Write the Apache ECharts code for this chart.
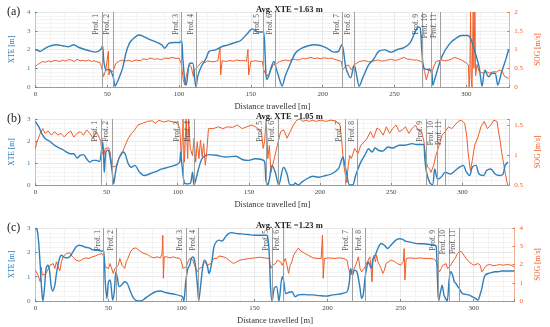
<!DOCTYPE html>
<html><head><meta charset="utf-8">
<script src="https://cdn.jsdelivr.net/npm/echarts@6/dist/echarts.min.js"></script>
<style>html,body{margin:0;padding:0;background:#fff}#c{width:550px;height:327px}</style>
</head><body><div id="c"></div>
<script>
// ---------- DATA ----------
var panelLetters = ['(a)', '(b)', '(c)'];
var avgXTE = ['1.63', '1.05', '1.23'];
var xMax = [330, 333, 328];
var xteMax = [4, 3, 3];
var sogMin = [0, 0.5, 0];
var sogMax = [2, 1.6, 4];
var xTickLabels = [0, 50, 100, 150, 200, 250, 300];
var profNames = ['Prof. 1','Prof. 2','Prof. 3','Prof. 4','Prof. 5','Prof. 6','Prof. 7','Prof. 8','Prof. 9','Prof. 10','Prof. 11'];
var profA = [46.7, 54.4, 101.8, 112.2, 158.4, 167.3, 214, 221.8, 269.3, 275.8, 281.6];
var profB = [46.2, 54, 104, 111.5, 162, 170.5, 217.8, 226.4, 274.3, 282, 288];
var profC = [46.7, 55.6, 103.3, 111.8, 162.2, 169.6, 217, 225.6, 276, 283.3, 290];

var xteA = [[0,2.0],[2.2,1.93],[3.3,1.9],[5.5,2.0],[9,2.15],[14.4,2.25],[19,2.2],[23,2.15],[26.7,2.25],[30,2.12],[34.4,2.0],[39,1.9],[42,1.86],[45.5,2.0],[46.7,2.2],[47.8,1.27],[49.5,0.9],[51,0.95],[52.7,0.82],[54.4,0.46],[55.5,0.05],[56.7,0.2],[59,0.64],[61,1.09],[63,1.8],[65.5,2.34],[67.8,2.55],[72,2.77],[74.4,2.73],[79,2.55],[83,2.43],[88,2.25],[90,2.07],[93,2.34],[96.7,2.37],[100.7,2.37],[101.8,2.5],[102.7,1.45],[104,0.37],[105,0.1],[106.7,1.09],[107.8,1.27],[109.5,1.27],[111,0.37],[111.8,0.0],[113,0.55],[115.5,1.09],[118.9,1.54],[121,1.9],[125.5,1.98],[130,2.16],[134.4,2.25],[139,2.37],[143,2.48],[147.8,2.87],[151,3.1],[154.4,2.96],[157.8,2.93],[158.9,2.93],[160,1.6],[161,0.4],[162.5,0.6],[164,1.0],[166,1.36],[168,0.9],[170,0.4],[171.8,0.05],[174,0.6],[176.7,1.09],[181,1.8],[185.5,2.07],[190,2.2],[194.4,2.25],[199,2.2],[203,2.07],[208,1.86],[211,1.9],[213.3,2.25],[214.4,1.98],[216,1.09],[218,0.64],[219.5,0.5],[221,0.9],[222,1.18],[223.5,0.7],[225.5,0.05],[228,0.5],[232,1.18],[235.5,1.48],[239,1.9],[243,1.98],[247.8,1.86],[252,2.0],[256.7,2.1],[261,2.37],[264,2.87],[266.7,3.2],[268,3.14],[269,1.98],[270.6,1.0],[274.4,0.91],[276,0.82],[276.7,0.1],[278.9,0.64],[283,1.62],[287.8,2.25],[292,2.55],[296.7,2.75],[301,2.75],[303,2.6],[305.6,1.98],[308.9,1.09],[311,0.05],[313,0.91],[315.6,0.55],[318,0.73],[320,0.73],[322,0.1],[324.4,0.73],[327.8,1.54],[329.5,2.0]];

var sogA = [[0,0.54],[1.5,0.6],[3,0.63],[5,0.68],[7,0.66],[9,0.7],[11,0.67],[13,0.71],[15,0.7],[17,0.68],[19,0.72],[21,0.69],[23,0.73],[25,0.72],[27,0.68],[29,0.74],[31,0.7],[33,0.71],[35,0.69],[37,0.72],[39,0.68],[41,0.7],[43,0.67],[45,0.65],[46,0.54],[47.5,0.28],[49,0.46],[50,0.5],[50.8,0.95],[51.2,0.32],[52,0.45],[54,0.41],[56,0.63],[58,0.68],[60,0.72],[62,0.69],[65,0.71],[67,0.68],[70,0.72],[73,0.7],[75,0.75],[78,0.73],[80,0.77],[83,0.74],[85,0.75],[88,0.73],[90,0.77],[93,0.76],[95,0.79],[98,0.76],[100,0.77],[101.5,0.63],[103,0.19],[104,0.05],[105,0.28],[107,0.59],[108.5,0.54],[110,0.28],[111,0.46],[113,0.54],[116,0.68],[118,0.65],[120,0.7],[123,0.67],[125,0.68],[127,0.7],[128.5,1.04],[129,0.32],[130,0.7],[133,0.68],[135,0.71],[138,0.69],[140,0.72],[143,0.7],[145,0.71],[147,0.69],[148,1.0],[148.5,0.32],[150,0.68],[153,0.7],[155,0.69],[158,0.68],[159,0.46],[161,0.28],[163,0.37],[165.5,0.59],[168,0.62],[170,0.68],[172,0.7],[174.4,0.72],[177,0.7],[179,0.75],[181,0.73],[183.3,0.72],[186,0.76],[188,0.75],[190,0.77],[192,0.79],[194,0.76],[196.7,0.77],[199,0.75],[201,0.78],[204,0.76],[206,0.77],[208,0.74],[210,0.72],[213,0.68],[214,0.46],[215.6,0.54],[217.8,0.59],[220,0.46],[222,0.59],[225.5,0.68],[228,0.7],[230,0.7],[232,0.67],[234.4,0.68],[237,0.71],[239,0.72],[241,0.69],[243,0.7],[245,0.72],[247.8,0.74],[250,0.71],[252,0.72],[254,0.75],[256.7,0.79],[259,0.74],[261,0.74],[263,0.72],[265.6,0.72],[267,0.7],[269,0.68],[271,0.41],[272.2,0.19],[274.4,0.5],[275.6,0.37],[278.9,0.68],[281,0.7],[283,0.72],[285,0.7],[287.8,0.72],[290,0.75],[292,0.79],[294,0.76],[296.7,0.72],[298,0.7],[300,0.64],[301.5,0.59],[302,0.0],[302.5,0.4],[303,2.0],[303.5,0.2],[304,0.0],[304.8,2.0],[305.3,0.5],[306,2.0],[306.5,0.3],[307.5,0.6],[309,0.41],[312,0.37],[314,0.41],[316,0.37],[318.9,0.41],[321,0.4],[323,0.45],[325,0.42],[326.7,0.28],[329.5,0.23]];

var xteB = [[0,2.88],[2.3,2.65],[4.5,2.34],[6.8,2.11],[10,1.99],[13.5,1.8],[17,1.68],[20,1.58],[22.5,1.47],[24.8,1.42],[27,1.42],[29.3,1.22],[31.5,1.35],[33.8,1.38],[36,1.19],[38.3,1.04],[40.5,1.12],[42.8,1.12],[45,1.07],[46,1.35],[47.3,1.96],[48,1.2],[48.4,0.58],[49.5,1.5],[50.7,1.58],[51.8,1.5],[53,1.04],[54,0.58],[55,0.05],[56.3,0.58],[57.4,0.96],[59.7,1.35],[61.5,1.5],[63,1.42],[65.3,0.96],[67.6,0.81],[69.8,0.89],[73.2,0.58],[76.6,0.43],[80,0.5],[84.5,0.61],[89,0.73],[93.5,0.81],[98,0.89],[101.4,1.04],[102,1.5],[103,0.89],[104.7,0.09],[107,0.05],[109,0.09],[110.4,0.58],[111.5,0.0],[113.7,0.5],[116,1.04],[118,1.27],[121.6,1.38],[127,1.35],[134,1.27],[140.8,1.31],[145.3,1.16],[149.8,1.12],[154.3,1.19],[158.8,1.16],[161,1.07],[162,0.2],[163.3,0.0],[164.5,0.3],[166.3,0.89],[168.5,0.58],[171,0.0],[174.4,0.81],[176.8,0.5],[179,0.0],[181.3,0.0],[182.5,0.09],[184.7,0.0],[187,0.12],[190,0.25],[195,0.4],[199,0.35],[204,0.43],[208,0.5],[212.8,0.73],[215,1.12],[216,1.27],[217.3,0.96],[218.5,0.58],[220.7,0.0],[222.9,0.0],[225,0.43],[228.6,1.04],[232,1.42],[234,1.65],[236.5,1.5],[238.7,1.68],[241,1.58],[244,1.54],[247.7,1.73],[251,1.68],[255.6,1.81],[260,1.81],[264.6,1.88],[268,1.84],[272.5,1.84],[273.6,1.19],[274.8,0.58],[277,0.12],[279,0.0],[280.6,0.73],[282.7,0.27],[285,0.35],[288,0.58],[291.7,0.5],[295,0.66],[298,0.81],[300.5,0.89],[302.9,0.58],[305,0.43],[307,0.81],[309.5,0.89],[311.7,0.5],[315,0.43],[317,0.66],[320,0.73],[323,0.5],[326,0.43],[328.6,0.5],[330,0.89],[332,1.04]];

var sogB = [[0,1.11],[1.1,1.22],[3.4,1.36],[5.2,1.44],[6.8,1.36],[9,1.4],[11.3,1.33],[13.5,1.39],[15.8,1.33],[18,1.36],[20.3,1.3],[22.5,1.36],[24.8,1.4],[27,1.3],[29.3,1.36],[31.5,1.39],[33.8,1.33],[36,1.42],[38.3,1.36],[40.5,1.28],[42.8,1.39],[45,1.28],[46,1.22],[46.8,1.05],[48,0.99],[49,1.11],[50,1.08],[51.4,1.12],[52.5,1.05],[53.6,0.85],[55,0.8],[57.4,0.83],[58.5,0.94],[60.8,1.02],[63,1.16],[65.3,1.28],[67.6,1.36],[69.8,1.42],[72,1.5],[75.5,1.53],[78.8,1.56],[82,1.57],[84.5,1.53],[86.7,1.58],[90,1.55],[93.5,1.57],[96.8,1.55],[100,1.53],[101.4,1.44],[102.5,0.99],[103,1.16],[103.8,1.6],[104.7,0.88],[105.9,1.6],[107,0.94],[107.7,1.6],[108.8,1.11],[110.4,0.99],[111.5,1.28],[112.6,0.88],[113.7,1.22],[114.9,0.94],[116,1.25],[117.1,0.97],[118.2,1.19],[119.4,0.83],[120.5,1.08],[121.6,1.44],[122.7,1.47],[125,1.44],[128.4,1.47],[131.8,1.44],[135,1.47],[138.5,1.46],[141.9,1.5],[145.3,1.44],[148.6,1.47],[152,1.5],[155.4,1.46],[158.8,1.39],[160,1.11],[161,1.22],[162.2,1.6],[163.3,0.94],[164.4,1.16],[165.5,0.71],[167.8,0.94],[170,1.16],[172.3,1.39],[174.5,1.42],[176.8,1.28],[179,1.39],[181.3,1.5],[183.6,1.58],[186,1.6],[188,1.56],[190.3,1.58],[192.5,1.56],[194.8,1.58],[197,1.56],[200.5,1.58],[204,1.56],[207.4,1.58],[210.8,1.57],[214,1.5],[215.3,1.22],[216.4,0.88],[217.5,0.71],[218.7,0.54],[219.8,0.83],[220.9,0.99],[222,0.94],[224.3,1.11],[226.6,1.02],[228.6,1.16],[231,1.22],[233.1,1.28],[235.4,1.39],[237.6,1.28],[240,1.45],[242,1.42],[244.4,1.33],[246.6,1.47],[248.9,1.36],[251,1.44],[253.4,1.5],[255.6,1.39],[258,1.42],[260,1.47],[262.4,1.36],[264.6,1.44],[267,1.5],[269,1.42],[271.3,1.39],[273,1.22],[274.3,0.94],[275.5,0.8],[277,0.77],[278,0.71],[279.8,0.83],[281.4,0.99],[283.6,1.16],[285.8,1.33],[288,1.39],[290.3,1.47],[292.6,1.44],[294.8,1.5],[297,1.56],[299.3,1.58],[301.6,1.53],[303,1.33],[304,1.05],[305.6,0.74],[307,0.91],[308.6,1.16],[311,1.3],[313,1.47],[315.3,1.56],[317.6,1.44],[320,1.5],[322,1.58],[324.3,1.56],[326.6,1.22],[328,0.99],[330,0.71],[331.8,0.5]];

var xteC = [[0,2.97],[1.1,2.95],[2.2,2.43],[3.3,1.47],[4.4,0.38],[5.1,0],[6.2,0.52],[7.3,1.34],[8.4,1.47],[9.6,1.27],[10.7,0.65],[11.8,0.41],[13.3,0.65],[14.4,1.13],[16.2,1.68],[17.8,1.88],[19.3,1.81],[21,1.77],[23.3,1.81],[25.5,2.0],[27.8,2.22],[30,2.29],[32.2,2.26],[34.4,2.21],[36.7,2.18],[38.9,2.11],[41,2.08],[43.3,2.08],[45.5,2.05],[46.7,2.07],[47.8,0.79],[48.9,0.1],[50,0.79],[51.1,0.86],[52.2,0.38],[52.9,0.04],[54,0.38],[55.1,1.2],[56.2,0.93],[57.3,0.59],[58.9,0.65],[61.1,0.79],[62.9,0.72],[65.1,0.38],[67.3,0.11],[70,0],[72.2,0],[74.4,0.08],[76.7,0.18],[78.9,0.27],[82.2,0.38],[85.6,0.41],[88.9,0.35],[92.2,0.31],[95.6,0.27],[98.9,0.22],[100.7,0.18],[101.6,0],[102.9,0.79],[104.4,1.34],[105.6,1.47],[106.7,1.75],[107.8,1.81],[108.9,1.68],[110,1.2],[111.1,0.52],[111.8,0],[112.9,0.52],[114.4,1.34],[115.6,1.68],[116.7,1.61],[117.8,1.41],[118.9,1.13],[120,1.34],[121.1,1.75],[122.2,2.22],[123.8,2.43],[125.6,2.5],[127.8,2.46],[130,2.63],[132.2,2.77],[134.4,2.81],[137.8,2.77],[141.1,2.76],[145.6,2.73],[150,2.7],[154.4,2.7],[157.8,2.7],[158.9,2.67],[160,2.0],[161,0.52],[162,0],[163.5,0.52],[165,0.6],[166.7,0],[168.9,1.0],[170,0.8],[171.5,0.3],[173.3,0.35],[175.6,0.38],[177.8,0.18],[180,0.25],[183.3,0.27],[186.7,0.25],[190,0.25],[194.4,0.22],[198.9,0.2],[203.3,0.25],[206.7,0.27],[210,0.31],[213.3,0.38],[214.9,0.79],[215.8,1.34],[217.1,1.06],[218.4,1.27],[220,1.2],[221.1,0.93],[222.2,0.52],[223.3,0.11],[224.4,0.25],[225.6,0.93],[226.7,1.34],[227.8,1.61],[228.9,1.47],[230,1.34],[231.1,1.75],[232.2,1.81],[234.4,2.16],[236.7,2.36],[238.9,2.29],[241.1,2.16],[243.3,2.29],[246.7,2.5],[248.9,2.56],[251.1,2.54],[253.3,2.46],[255.6,2.43],[257.8,2.4],[261.1,2.36],[265.6,2.35],[270,2.32],[273.3,2.29],[274.4,2.23],[275.1,1.06],[276,0],[277.3,0.38],[278.4,0.65],[279.6,0.25],[280.7,0.11],[281.8,0],[283.3,0.93],[284.4,1.2],[285.6,1.06],[286.7,0.79],[287.8,0.72],[290,0.52],[292.2,0.31],[294.4,0.27],[296.7,0.25],[298.9,0.18],[301.1,0.11],[302.9,0.04],[304.4,0.27],[305.6,0.52],[306.7,0.86],[307.8,1.06],[310,1.13],[312.2,1.17],[314.4,1.2],[316.7,1.2],[318.9,1.23],[323.3,1.23],[327.8,1.23]];

var sogC = [[0,1.69],[1.1,1.78],[1.8,1.42],[2.7,1.51],[3.3,1.05],[4,1.87],[4.7,1.42],[5.6,1.51],[6.7,1.45],[7.8,1.6],[8.9,1.78],[10,1.96],[11.1,1.87],[12.2,2.05],[13.3,1.78],[14.4,2.15],[15.6,1.87],[16.7,1.64],[17.8,2.15],[18.9,2.42],[20,2.51],[21.1,2.6],[22.2,2.69],[23.3,2.65],[25.5,2.42],[27.8,2.24],[30,2.18],[32.2,2.29],[34.4,2.36],[36.7,2.33],[38.9,2.42],[41.1,2.47],[43.3,2.55],[45.5,2.6],[46.7,2.47],[47.8,1.87],[48.9,1.96],[50,1.78],[51.1,2.05],[52.2,1.96],[53.3,1.51],[54.4,1.78],[55.6,1.87],[56.7,1.96],[57.8,2.33],[58.4,2.42],[59.3,1.96],[60,2.05],[61.1,1.78],[62.2,2.15],[63.3,2.33],[65.1,2.69],[66.7,2.87],[67.8,2.78],[68.9,2.91],[70,2.84],[72.2,2.69],[74.4,2.6],[76.7,2.55],[78.9,2.42],[81.1,2.36],[83.3,2.42],[85.6,2.36],[86.7,2.6],[87.2,3.6],[87.6,1.24],[88.2,2.42],[90,2.42],[92.2,2.36],[94.4,2.42],[96.7,2.36],[98.9,2.33],[100,2.15],[101.1,1.78],[102.2,1.69],[103.3,1.87],[104.4,2.15],[105.6,2.33],[106.7,2.36],[107.8,2.24],[108.9,1.96],[110,1.78],[111.1,1.6],[112.2,1.78],[113.3,1.69],[114.4,1.87],[115.6,2.15],[116.7,2.05],[117.8,1.96],[118.9,1.87],[120,2.05],[121.1,2.15],[122.2,2.33],[123.3,2.42],[124.4,2.33],[125.6,2.47],[126.7,2.42],[128.9,2.42],[131.1,2.33],[133.3,2.18],[135.6,2.05],[137.8,2.15],[140,2.24],[143.3,2.29],[146.7,2.33],[150,2.36],[153.3,2.4],[156.7,2.36],[160,2.33],[160.5,2.05],[161.1,1.78],[162.2,1.96],[163.3,1.87],[164.4,2.05],[165.6,2.24],[166.7,2.33],[167.8,2.15],[168.9,1.96],[170,2.05],[171.1,2.33],[172.2,1.96],[173.3,1.51],[174.4,1.96],[175.6,2.15],[176.7,2.51],[177.8,2.6],[178.9,2.78],[180,2.91],[181.1,2.78],[182.2,2.69],[184.4,2.6],[186.7,2.51],[190,2.36],[193.3,2.33],[195.6,2.33],[196.5,3.6],[197,1.24],[197.8,2.33],[201.1,2.36],[204.4,2.33],[207.8,2.36],[211.1,2.33],[213.3,2.24],[214.4,1.78],[215.6,1.42],[216.7,1.51],[217.8,1.69],[218.9,1.78],[220,2.15],[221.1,2.42],[222.2,1.78],[223.3,1.6],[224.4,1.69],[225.6,1.87],[226.7,1.96],[227.8,2.24],[228.9,2.42],[229.6,1.96],[230.4,1.05],[231.1,2.33],[231.8,2.51],[232.7,2.15],[233.6,2.51],[234.4,2.15],[235.6,1.96],[236.7,1.78],[237.8,1.51],[238.9,1.69],[240,2.05],[241.1,2.15],[243.3,2.24],[245.6,2.18],[247.8,2.05],[250,1.96],[251.8,2.15],[252.4,2.87],[252.9,1.15],[253.8,2.33],[256.7,2.36],[260,2.33],[263.3,2.36],[266.7,2.33],[270,2.33],[273.3,2.29],[274.4,2.15],[275.6,1.78],[276.7,1.6],[277.8,1.78],[278.9,1.96],[280,1.87],[281.1,2.05],[282.2,1.78],[283.3,1.69],[284.4,1.96],[285.6,2.15],[287.3,2.33],[288.9,2.6],[290.4,2.73],[291.8,2.69],[293.3,2.51],[294.9,2.33],[296.7,2.15],[298.4,2.05],[300,1.96],[301.1,2.0],[302.9,2.05],[304.4,1.96],[305.6,1.6],[307.3,1.78],[308.9,1.96],[311.1,2.0],[313.3,1.93],[315.6,1.96],[317.8,2.0],[320,1.96],[323.3,2.0],[325.6,1.96],[327.8,1.87]];

// ---------- CHART ----------
var BLUE = '#2f7fba', ORANGE = '#ef5d28';
var FONT = '"Liberation Serif", "DejaVu Serif", serif';
var layout = [ {top: 12, height: 75}, {top: 119, height: 66}, {top: 228, height: 73} ];
var xteSets = [xteA, xteB, xteC];
var sogSets = [sogA, sogB, sogC];
var profSets = [profA, profB, profC];

var grids = [], xAxes = [], yAxes = [], series = [], titles = [];
for (var i = 0; i < 3; i++) {
  grids.push({left: 32, right: 23, top: layout[i].top, height: layout[i].height, show: false});
  xAxes.push({
    type: 'value', gridIndex: i, min: 0, max: xMax[i], interval: 50,
    name: 'Distance travelled [m]', nameLocation: 'middle', nameGap: 15,
    nameTextStyle: {fontFamily: FONT, fontSize: 8.5, color: '#333'},
    axisLine: {show: true, onZero: false, lineStyle: {color: '#888', width: 0.8}},
    axisTick: {show: true, inside: true, length: 2, lineStyle: {color: '#888'}},
    axisLabel: {fontFamily: FONT, fontSize: 7, color: '#444', margin: 4,
      formatter: function (v) { return xTickLabels.indexOf(v) >= 0 ? String(v) : ''; }},
    splitLine: {show: true, lineStyle: {color: '#e3e3e3', width: 0.8}},
    minorTick: {show: false, splitNumber: 5},
    minorSplitLine: {show: true, lineStyle: {color: '#f1f1f1', width: 0.8}}
  });
  (function (i) {
    yAxes.push({
      type: 'value', gridIndex: i, position: 'left', min: 0, max: xteMax[i], interval: 1,
      name: 'XTE [m]', nameLocation: 'middle', nameGap: 14,
      nameTextStyle: {fontFamily: FONT, fontSize: 7.5, color: BLUE},
      axisLine: {show: true, lineStyle: {color: '#9cc3e0', width: 0.8}},
      axisTick: {show: true, inside: true, length: 2, lineStyle: {color: BLUE}},
      axisLabel: {fontFamily: FONT, fontSize: 7, color: BLUE, margin: 5},
      splitLine: {show: true, lineStyle: {color: '#e3e3e3', width: 0.8}},
      minorTick: {show: false, splitNumber: 5},
      minorSplitLine: {show: true, lineStyle: {color: '#f1f1f1', width: 0.8}}
    });
    yAxes.push({
      type: 'value', gridIndex: i, position: 'right', min: sogMin[i], max: sogMax[i], interval: (i === 2 ? 1 : 0.5),
      name: 'SOG [m/s]', nameLocation: 'middle', nameGap: 17, nameRotate: 90,
      nameTextStyle: {fontFamily: FONT, fontSize: 7.5, color: ORANGE},
      axisLine: {show: true, lineStyle: {color: '#f5a27f', width: 0.8}},
      axisTick: {show: true, inside: true, length: 2, lineStyle: {color: ORANGE}},
      axisLabel: {fontFamily: FONT, fontSize: 7, color: ORANGE, margin: 5,
        formatter: function (v) {
          var r = Math.round(v * 2) / 2;
          if (Math.abs(r - v) > 1e-6) return '';
          return String(r);
        }},
      splitLine: {show: false}
    });
  })(i);

  var mlData = profSets[i].map(function (x, k) { return {xAxis: x, name: profNames[k]}; });
  series.push({
    type: 'line', xAxisIndex: i, yAxisIndex: 2 * i, data: xteSets[i],
    showSymbol: false, smooth: 0.3, lineStyle: {color: BLUE, width: 1.4}, itemStyle: {color: BLUE},
    z: 3, animation: false,
    markLine: {
      silent: true, symbol: ['none', 'none'], animation: false,
      lineStyle: {color: '#a0a0a0', width: 1, type: 'solid'},
      label: {show: true, position: 'insideEndTop', formatter: '{b}', distance: [2, 2],
        fontFamily: FONT, fontSize: 7.5, color: '#555'},
      data: mlData
    }
  });
  series.push({
    type: 'line', xAxisIndex: i, yAxisIndex: 2 * i + 1, data: sogSets[i],
    showSymbol: false, lineStyle: {color: ORANGE, width: 1}, itemStyle: {color: ORANGE},
    z: 2, animation: false
  });
  titles.push({text: 'Avg. XTE =' + avgXTE[i] + ' m', left: 251, top: layout[i].top - 12,
    textStyle: {fontFamily: FONT, fontSize: 8.5, fontWeight: 'bold', color: '#222'}});
  titles.push({text: panelLetters[i], left: 2, top: layout[i].top - 11,
    textStyle: {fontFamily: FONT, fontSize: 12, fontWeight: 'normal', color: '#222'}});
}

var chart = echarts.init(document.getElementById('c'), null, {renderer: 'canvas'});
chart.setOption({
  backgroundColor: '#fff', animation: false,
  title: titles, grid: grids, xAxis: xAxes, yAxis: yAxes, series: series
});
</script></body></html>
